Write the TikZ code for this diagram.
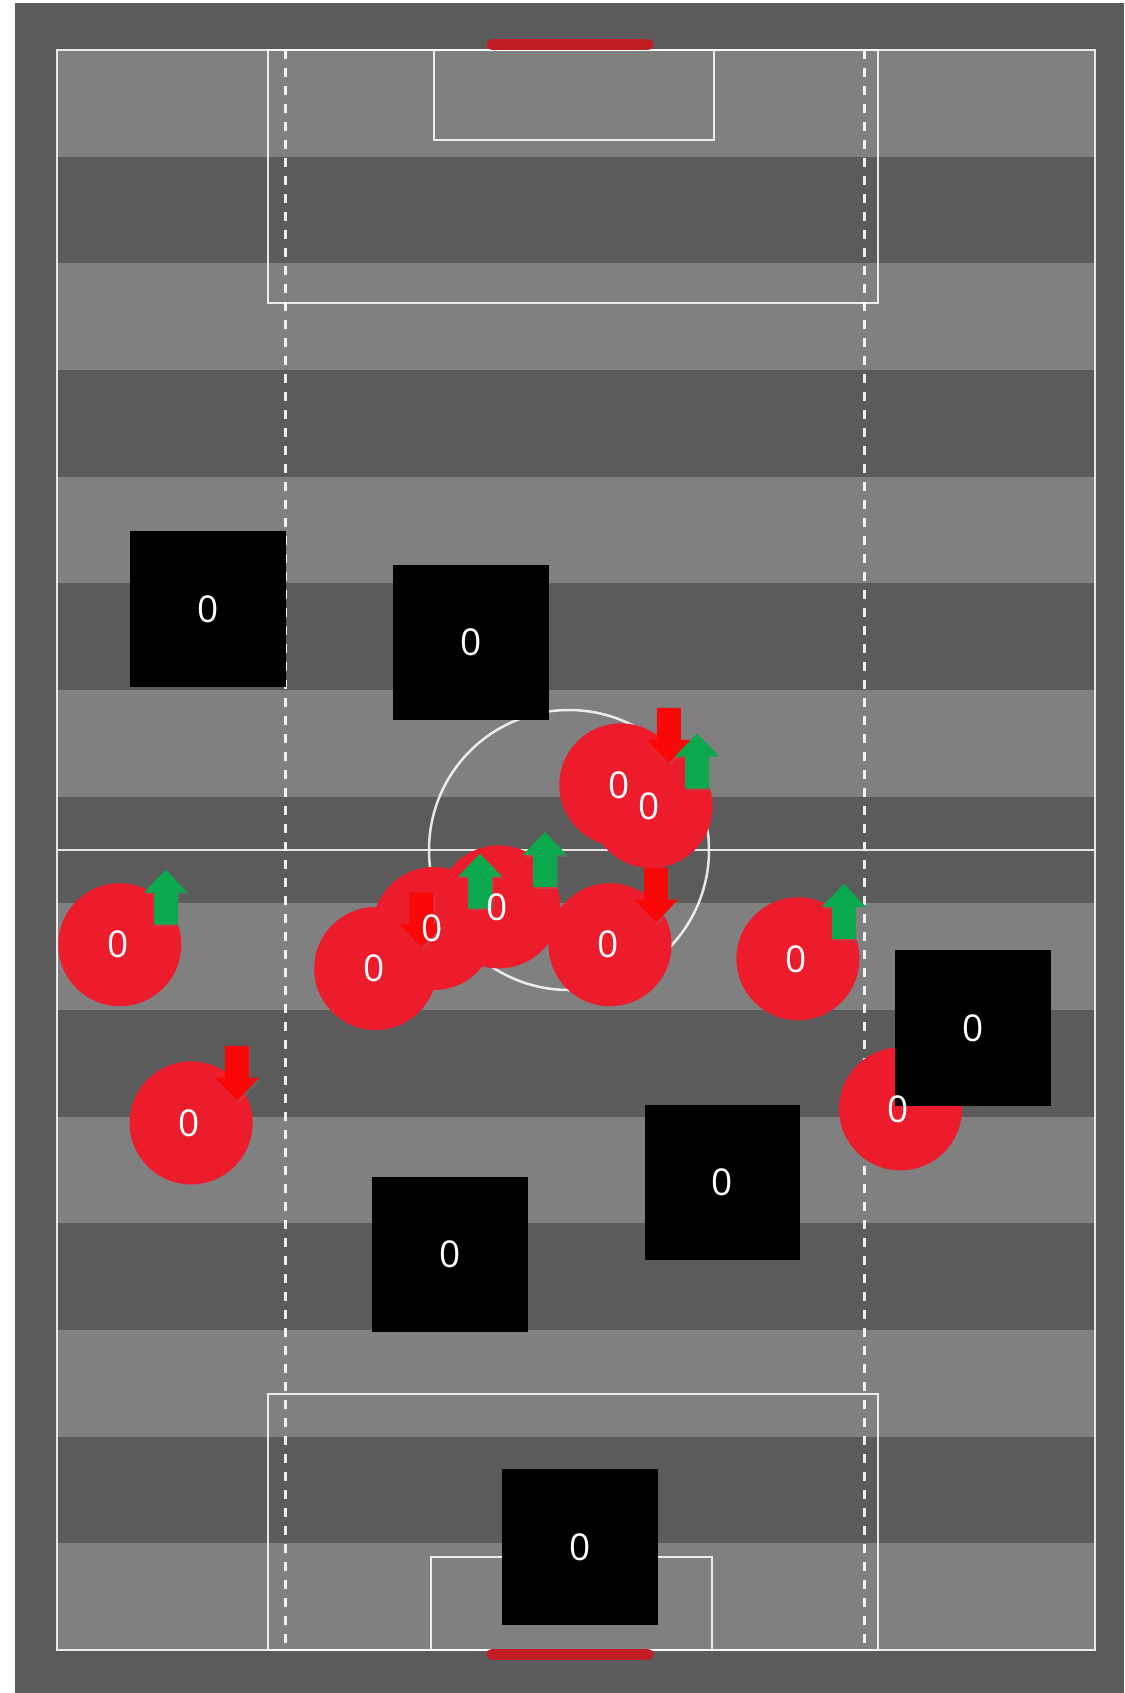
\documentclass[tikz,border=0pt]{standalone}
\usepackage{fontspec}
\setmainfont{Open Sans}
\usepackage{tikz}
\usetikzlibrary{shadows}

\definecolor{pitchLight}{RGB}{128,128,128}
\definecolor{pitchDark}{RGB}{91,91,91}
\definecolor{playerRed}{RGB}{237,28,45}
\definecolor{goalRed}{RGB}{192,30,36}
\definecolor{upGreen}{RGB}{12,168,78}
\definecolor{downRed}{RGB}{250,8,8}

\begin{document}
\begin{tikzpicture}[
    x=1pt, y=-1pt,
    player/.style={circle, fill=playerRed, minimum size=123pt, inner sep=0pt},
    opponent/.style={rectangle, fill=black, minimum size=155.5pt, inner sep=0pt, text=white, font=\fontsize{37}{44}\selectfont},
    num/.style={text=white, inner sep=0pt, xshift=-2pt, font=\fontsize{37}{44}\selectfont},
    pline/.style={draw=white, draw opacity=0.85, line width=2.5pt},
    dline/.style={draw=white, draw opacity=0.9, line width=3pt, dash pattern=on 9pt off 9pt},
    goalbar/.style={draw=goalRed, line width=11pt, line cap=round},
    arrshadow/.style={drop shadow={shadow xshift=1.5pt, shadow yshift=-2pt, opacity=0.3}},
    uparr/.pic={\fill[upGreen, arrshadow] (0,-27) -- (22,-4) -- (12,-4) -- (12,28) -- (-12,28) -- (-12,-4) -- (-22,-4) -- cycle;},
    dnarr/.pic={\fill[downRed, arrshadow] (0,27) -- (22,4) -- (12,4) -- (12,-28) -- (-12,-28) -- (-12,4) -- (-22,4) -- cycle;}
]

    % Page and surround
    \fill[white] (0,0) rectangle (1124,1693);
    \useasboundingbox (0,0) rectangle (1124,1693);
    \fill[pitchDark] (15,3) rectangle (1124,1693);

    % Stripes
    \foreach \i in {0,2,...,14}
        \fill[pitchLight] (57,{50+\i*106.667}) rectangle (1095,{50+(\i+1)*106.667});

    % Pitch lines
    \draw[pline] (57,50) rectangle (1095,1650);
    \draw[pline] (57,850) -- (1095,850);
    \draw[pline] (569,850) circle (140);
    \draw[pline] (268,50) rectangle (878,303);
    \draw[pline] (268,1394) rectangle (878,1650);
    \draw[pline] (434,50) rectangle (714,140);
    \draw[pline] (431,1557) rectangle (712,1650);
    \draw[dline] (285,50) -- (285,1650);
    \draw[dline] (864,50) -- (864,1650);

    % Goals
    \draw[goalbar] (492,45) -- (648,45);
    \draw[goalbar] (492,1654) -- (648,1654);

    % Players
    \node[player] (p1) at (119.8,944.7) {};
    \node[player] (p2) at (191.1,1122.9) {};
    \node[player] (p3) at (375.7,968.5) {};
    \node[player] (p4) at (434.0,928.5) {};
    \node[player] (p5) at (498.8,906.9) {};
    \node[player] (p6) at (610.0,944.7) {};
    \node[player] (p7) at (620.8,784.9) {};
    \node[player] (p8) at (651.1,806.5) {};
    \node[player] (p9) at (797.9,958.8) {};
    \node[player] (p10) at (900.5,1108.9) {};

    % Movement arrows
    \path (p1) ++(46,-48) pic {uparr};
    \path (p2) ++(46,-49) pic {dnarr};
    \path (p3) ++(46,-48) pic {dnarr};
    \path (p4) ++(46,-48) pic {uparr};
    \path (p5) ++(46,-48) pic {uparr};
    \path (p6) ++(46,-49) pic {dnarr};
    \path (p7) ++(48,-49) pic {dnarr};
    \path (p8) ++(46,-46) pic {uparr};
    \path (p9) ++(46,-48) pic {uparr};

    % Opponents
    \node[opponent] (o1) at (207.8,609.0) {0};
    \node[opponent] (o2) at (470.8,642.4) {0};
    \node[opponent] (o3) at (972.8,1027.9) {0};
    \node[opponent] (o4) at (722.3,1182.3) {0};
    \node[opponent] (o5) at (450.2,1254.6) {0};
    \node[opponent] (o6) at (579.8,1547.2) {0};

    % Player numbers
    \foreach \p in {1,...,10}
        \node[num] (n\p) at (p\p) {0};

\end{tikzpicture}
\end{document}
